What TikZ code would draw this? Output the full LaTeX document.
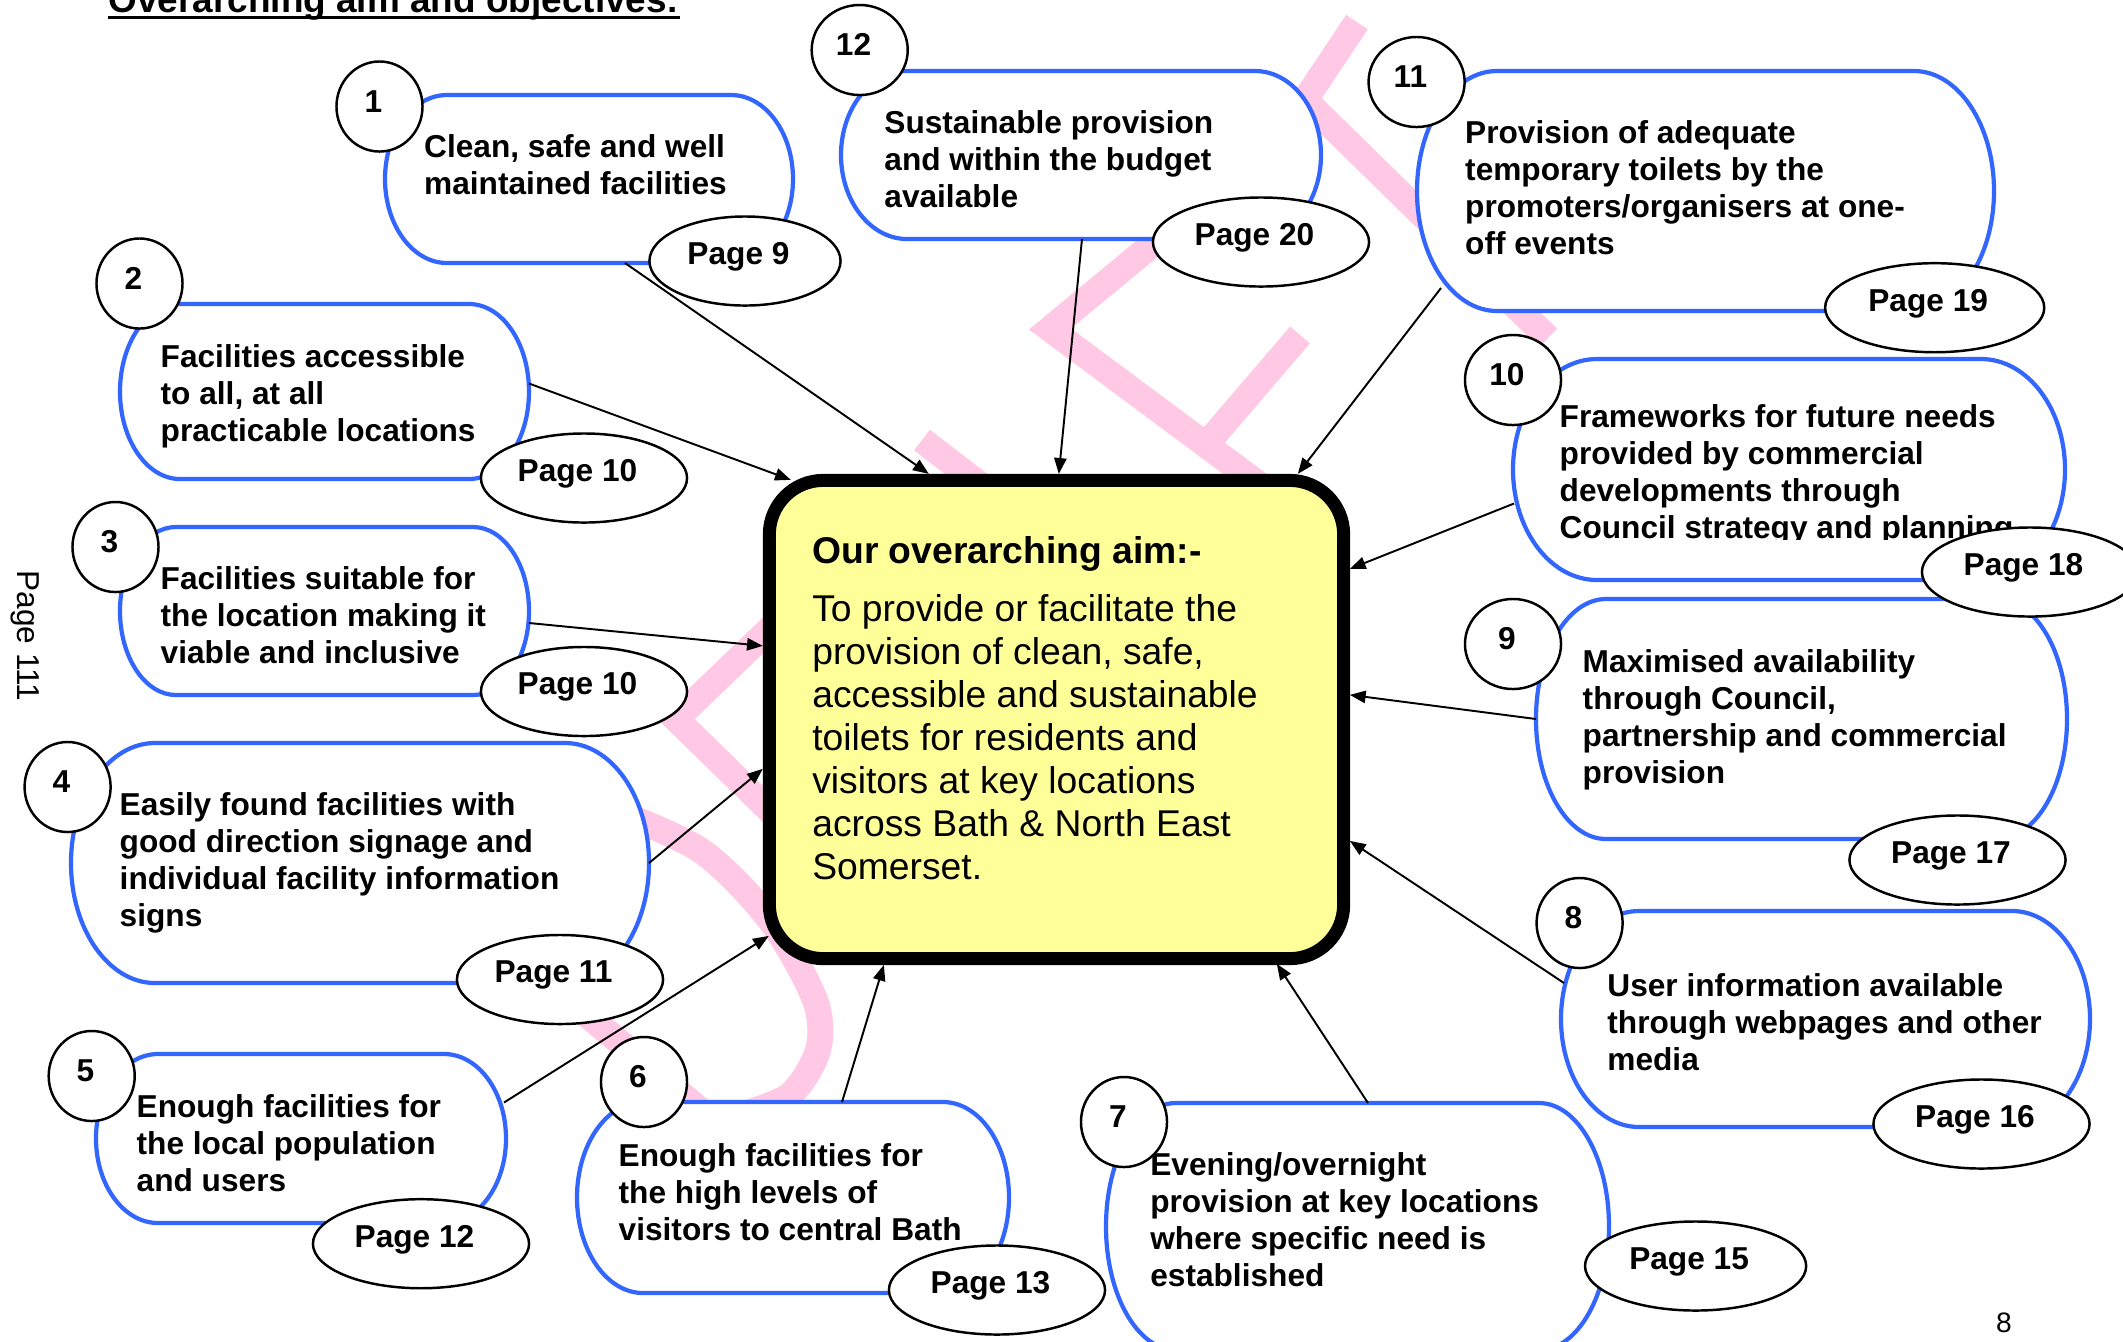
\documentclass[tikz,border=0pt]{standalone}
\usepackage{fontspec}
\setmainfont{Liberation Sans}
\usetikzlibrary{arrows.meta,shapes.geometric,fit,calc}

\definecolor{objblue}{RGB}{51,102,255}
\definecolor{aimfill}{RGB}{255,255,153}
\definecolor{draftpink}{RGB}{255,200,228}

% objective box: name, left, top, right, bottom, end radius (pixels)
\newcommand{\objbox}[6]{%
  \node[objarea, fit={(#2,-#3) (#4,-#5)}] (#1) {};
  \draw[objline] (#2+#6,-#3) -- (#4-#6,-#3)
    arc[start angle=90, end angle=-90, x radius=#6, y radius={(#5-#3)/2}]
    -- (#2+#6,-#5)
    arc[start angle=270, end angle=90, x radius=#6, y radius={(#5-#3)/2}]
    -- cycle;
}

\begin{document}
\begin{tikzpicture}[x=0.01cm, y=0.01cm,
  objarea/.style={inner sep=0pt, outer sep=0pt},
  objline/.style={draw=objblue, line width=1.2pt, fill=white},
  objtext/.style={anchor=base west, align=left, inner sep=0pt, font=\bfseries\fontsize{9}{10.5}\selectfont},
  numtag/.style={ellipse, draw, fill=white, line width=0.7pt, minimum width=0.86cm, minimum height=0.9cm, inner sep=0pt, font=\bfseries\fontsize{9}{10.5}\selectfont, text height=6.5pt, text depth=3.3pt, execute at end node=\kern3.5pt},
  pagetag/.style={ellipse, draw, fill=white, line width=0.7pt, minimum width=2.16cm, minimum height=0.89cm, inner sep=0pt, font=\bfseries\fontsize{9}{10.5}\selectfont, text height=6.5pt, text depth=4.6pt, execute at end node=\kern3.7pt},
  aimbox/.style={draw, line width=0.13cm, fill=aimfill, rounded corners=0.54cm, minimum width=5.74cm, minimum height=4.78cm, inner sep=0pt},
  link/.style={-{Triangle[length=4.5pt,width=3.5pt]}, line width=0.55pt},
  draft/.style={draftpink, line width=0.26cm, line join=miter}
]
\useasboundingbox (0,0) rectangle (2123,-1341);

% watermark
\draw[draft] (1357,-22) -- (1305,-100) -- (1548,-338);
\draw[draft] (1200,-205) -- (1050,-329) -- (1280,-500);
\draw[draft] (1300,-335) -- (1210,-440);
\draw[draft] (800,-600) -- (676,-719) -- (800,-840);
\draw[draft] (922,-440) -- (1000,-500);
\draw[draft] (540,-975) -- (700,-1110);
\draw[draft] plot[smooth] coordinates {(600,-805) (700,-850) (770,-920) (815,-1000) (818,-1050) (790,-1095) (740,-1115)};

% title and page marks
\node[anchor=base west, inner sep=0pt, font=\bfseries\fontsize{10.5}{12}\selectfont] (title) at (108,-12.5) {Overarching aim and objectives:};
\draw[line width=1pt] ([yshift=-1.4pt]title.base west) -- ([yshift=-1.4pt]title.base east);
\node[rotate=-90, inner sep=0pt, font=\fontsize{9}{11}\selectfont] (sidepage) at (25,-636) {Page 111};
\node[inner sep=0pt, font=\fontsize{8}{10}\selectfont] (folio) at (2004,-1323) {8};

% objective boxes
\objbox{b1}{385}{95}{793}{263}{62}
\objbox{b2}{120}{304}{529}{479}{60}
\objbox{b3}{120}{527}{529}{695}{56}
\objbox{b4}{71}{743}{649}{983}{84}
\objbox{b5}{96}{1054}{506}{1223}{62}
\objbox{b6}{577}{1102}{1009}{1293}{66}
\objbox{b7}{1106}{1103}{1609}{1350}{70}
\objbox{b8}{1561}{911}{2090}{1127}{78}
\objbox{b9}{1536}{599}{2067}{839}{70}
\objbox{b10}{1513}{359}{2065}{580}{84}
\objbox{b11}{1417}{71}{1994}{311}{80}
\objbox{b12}{841}{71}{1321}{239}{66}

% texts sit on the baseline of their last line
\node[objtext] (t1) at (423.5,-194) {Clean, safe and well\\maintained facilities};
\node[objtext] (t2) at (160,-441) {Facilities accessible\\to all, at all\\practicable locations};
\node[objtext] (t3) at (160,-663) {Facilities suitable for\\the location making it\\viable and inclusive};
\node[objtext] (t4) at (119,-926) {Easily found facilities with\\good direction signage and\\individual facility information\\signs};
\node[objtext] (t5) at (136,-1191) {Enough facilities for\\the local population\\and users};
\node[objtext] (t6) at (618,-1240.7) {Enough facilities for\\the high levels of\\visitors to central Bath};
\node[objtext] (t7) at (1149.6,-1286) {Evening/overnight\\provision at key locations\\where specific need is\\established};
\node[objtext] (t8) at (1606.7,-1070.5) {User information available\\through webpages and other\\media};
\node[objtext] (t9) at (1582,-783.6) {Maximised availability\\through Council,\\partnership and commercial\\provision};
\begin{scope}
  \clip (1500,-340) rectangle (2100,-539);
  \node[objtext] (t10) at (1559,-538.5) {Frameworks for future needs\\provided by commercial\\developments through\\Council strategy and planning};
\end{scope}
\node[objtext] (t11) at (1464.5,-254.5) {Provision of adequate\\temporary toilets by the\\promoters/organisers at one-\\off events};
\node[objtext] (t12) at (883.7,-207.3) {Sustainable provision\\and within the budget\\available};

% numbers
\node[numtag] (n1) at (379.5,-106.5) {1};
\node[numtag] (n2) at (139.5,-283.5) {2};
\node[numtag] (n3) at (115.5,-547) {3};
\node[numtag] (n4) at (67.6,-787) {4};
\node[numtag] (n5) at (91.7,-1076) {5};
\node[numtag] (n6) at (644,-1082) {6};
\node[numtag] (n7) at (1124,-1122) {7};
\node[numtag] (n8) at (1579.6,-923) {8};
\node[numtag, minimum width=0.96cm] (n9) at (1513,-644) {9};
\node[numtag, minimum width=0.96cm] (n10) at (1513,-380) {10};
\node[numtag, minimum width=0.96cm] (n11) at (1416.6,-82) {11};
\node[numtag, minimum width=0.96cm] (n12) at (859.7,-50) {12};

% page references
\node[pagetag, minimum width=1.91cm] (p1) at (745,-261) {Page 9};
\node[pagetag, minimum width=2.06cm] (p2) at (584,-478) {Page 10};
\node[pagetag, minimum width=2.06cm] (p3) at (584,-691.5) {Page 10};
\node[pagetag, minimum width=2.06cm] (p4) at (560,-979.5) {Page 11};
\node[pagetag] (p5) at (421,-1243.7) {Page 12};
\node[pagetag] (p6) at (997,-1290) {Page 13};
\node[pagetag, minimum width=2.21cm] (p7) at (1695.6,-1266) {Page 15};
\node[pagetag] (p8) at (1981.5,-1124) {Page 16};
\node[pagetag] (p9) at (1957.5,-860) {Page 17};
\node[pagetag] (p10) at (2030,-572) {Page 18};
\node[pagetag, minimum width=2.19cm] (p11) at (1934.7,-307.7) {Page 19};
\node[pagetag] (p12) at (1261,-242) {Page 20};

% central aim
\node[aimbox] (aim) at (1056.5,-719.5) {};
\node[anchor=base west, align=left, inner sep=0pt, font=\fontsize{10.6}{12.2}\selectfont] (aimtext) at (811.6,-879)
  {\textbf{Our overarching aim:-}\\[4.2pt]
   To provide or facilitate the\\
   provision of clean, safe,\\
   accessible and sustainable\\
   toilets for residents and\\
   visitors at key locations\\
   across Bath \& North East\\
   Somerset.};

% connectors
\draw[link] ($(b1.south west)+(240,0)$) -- ($(aim.north west)+(166,0)$);
\draw[link] ($(b2.east)+(0,8)$) -- ($(aim.north west)+(28,-6)$);
\draw[link] ($(b3.east)+(0,-12)$) -- ($(aim.north west)+(0,-172)$);
\draw[link] (b4.east) -- ($(aim.north west)+(0,-295)$);
\draw[link] ($(b5.east)+(-2,36)$) -- ($(aim.north west)+(6,-462)$);
\draw[link] ($(b6.north west)+(265,0)$) -- ($(aim.north west)+(121,-491)$);
\draw[link] ($(b7.north west)+(262,0)$) -- ($(aim.north west)+(514,-490)$);
\draw[link] ($(b8.west)+(3,36)$) -- ($(aim.north west)+(587,-367)$);
\draw[link] (b9.west) -- ($(aim.north west)+(587,-221)$);
\draw[link] ($(b10.west)+(1,-34)$) -- ($(aim.north west)+(587,-95)$);
\draw[link] ($(b11.south west)+(24,23)$) -- ($(aim.north west)+(535,0)$);
\draw[link] ($(b12.south west)+(241,0)$) -- ($(aim.north west)+(296,0)$);
\end{tikzpicture}
\end{document}
